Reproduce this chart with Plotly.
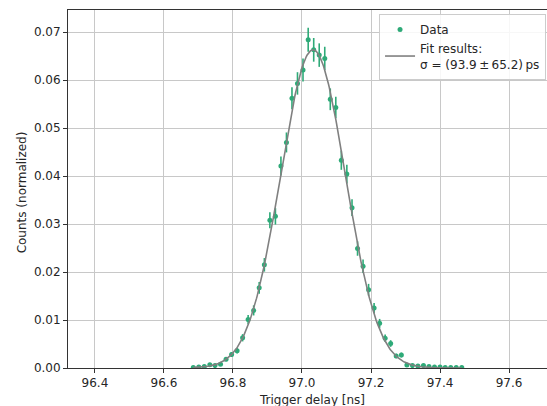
import numpy as np
import plotly.graph_objects as go

# Bin centers (ns)
delay_ns = [96.685, 96.701, 96.717, 96.733, 96.748, 96.764, 96.780, 96.796, 96.812, 96.828,
            96.844, 96.860, 96.876, 96.891, 96.907, 96.923, 96.939, 96.955, 96.971, 96.987,
            97.003, 97.018, 97.034, 97.050, 97.066, 97.082, 97.098, 97.114, 97.130, 97.145,
            97.161, 97.177, 97.193, 97.209, 97.225, 97.241, 97.257, 97.273, 97.288, 97.304,
            97.320, 97.336, 97.352, 97.368, 97.384, 97.400, 97.415, 97.431, 97.447, 97.463]
# Normalized counts
counts = [0.0001, 0.0002, 0.0003, 0.0007, 0.0005, 0.0008, 0.0018, 0.0028, 0.0036, 0.0063,
          0.0101, 0.0120, 0.0167, 0.0215, 0.0308, 0.0316, 0.0421, 0.0470, 0.0562, 0.0593,
          0.0621, 0.0684, 0.0663, 0.0652, 0.0645, 0.0560, 0.0543, 0.0433, 0.0404, 0.0334,
          0.0249, 0.0212, 0.0163, 0.0125, 0.0093, 0.0062, 0.0051, 0.0025, 0.0027, 0.0006,
          0.0005, 0.0004, 0.0005, 0.0003, 0.0002, 0.0002, 0.0001, 0.0001, 0.0001, 0.0001]
# Error bars
errors = [0.00010, 0.00014, 0.00017, 0.00025, 0.00021, 0.00027, 0.00041, 0.00051, 0.00058, 0.00076,
          0.00096, 0.00105, 0.00124, 0.00141, 0.00168, 0.00171, 0.00197, 0.00208, 0.00228, 0.00234,
          0.00239, 0.00251, 0.00247, 0.00245, 0.00244, 0.00227, 0.00224, 0.00200, 0.00193, 0.00175,
          0.00151, 0.00140, 0.00123, 0.00107, 0.00093, 0.00076, 0.00069, 0.00048, 0.00050, 0.00024,
          0.00021, 0.00019, 0.00021, 0.00017, 0.00014, 0.00014, 0.00010, 0.00010, 0.00010, 0.00010]

# Gaussian fit parameters
fit_mu = 97.032
fit_sigma = 0.0939
fit_amp = 0.0663
fit_label = "Fit results:<br>σ = (93.9\u2009±\u200965.2)\u2009ps"

x_ticks = [96.4, 96.6, 96.8, 97.0, 97.2, 97.4, 97.6]
y_ticks = [0.00, 0.01, 0.02, 0.03, 0.04, 0.05, 0.06, 0.07]

green = "#2eaa78"
font = "DejaVu Sans"
txt = "#262626"

xf = np.linspace(delay_ns[0], delay_ns[-1], 400)
yf = fit_amp * np.exp(-0.5 * ((xf - fit_mu) / fit_sigma) ** 2)

fig = go.Figure()
fig.add_trace(go.Scatter(
    x=delay_ns, y=counts, mode="markers", name="Data",
    marker=dict(color=green, size=5),
    error_y=dict(type="data", array=errors, visible=True, color=green, thickness=1.6, width=0),
))
fig.add_trace(go.Scatter(
    x=xf, y=yf, mode="lines", name=fit_label,
    line=dict(color="#808080", width=1.6),
))

fig.update_layout(
    width=547, height=406,
    margin=dict(l=68, r=0, t=10, b=38, autoexpand=False),
    paper_bgcolor="white", plot_bgcolor="white",
    font=dict(family=font, size=12, color=txt),
    legend=dict(
        x=0.998, y=0.989, xanchor="right", yanchor="top",
        bgcolor="rgba(255,255,255,0.85)", bordercolor="#cccccc", borderwidth=1,
        font=dict(size=12, color=txt), tracegroupgap=2,
    ),
    xaxis=dict(
        range=[96.322, 97.71], tickvals=x_ticks, tickformat=".1f",
        showgrid=True, gridcolor="#c8c8c8", gridwidth=1,
        showline=True, linecolor="#333333", linewidth=1, mirror=True,
        ticks="outside", ticklen=4, tickcolor="#333333", zeroline=False,
        automargin=False,
    ),
    yaxis=dict(
        range=[0, 0.0746], tickvals=y_ticks, tickformat=".2f",
        showgrid=True, gridcolor="#c8c8c8", gridwidth=1,
        showline=True, linecolor="#333333", linewidth=1, mirror=False,
        ticks="outside", ticklen=4, tickcolor="#333333", zeroline=False,
        automargin=False,
    ),
    annotations=[
        dict(text="Trigger delay [ns]", x=0.509, y=-0.065, xref="paper", yref="paper",
             xanchor="center", yanchor="top", showarrow=False, font=dict(size=12, color=txt)),
        dict(text="Counts (normalized)", x=-0.0965, y=0.49, xref="paper", yref="paper",
             xanchor="center", yanchor="middle", textangle=-90, showarrow=False,
             font=dict(size=12, color=txt)),
    ],
)

fig.write_html("out.html")
